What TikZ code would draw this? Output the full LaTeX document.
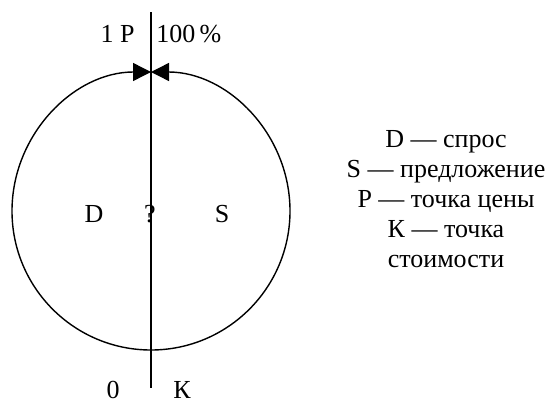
\documentclass[tikz,border=0pt]{standalone}
\usepackage{fontspec}
\setmainfont{Liberation Serif}
\usetikzlibrary{arrows.meta,positioning}

\begin{document}
\begin{tikzpicture}[
    x=0.5pt, y=0.5pt,
    axis/.style={line width=0.7pt},
    halfring/.style={line width=0.7pt, -{Triangle[length=9pt, width=9pt]}},
    lbl/.style={font=\fontsize{13}{15}\selectfont, inner sep=0pt},
    legend/.style={font=\fontsize{13}{15}\selectfont, align=center, inner sep=0pt}
]
\useasboundingbox (0,0) rectangle (551,403);

% Axis
\coordinate (axtop) at (151,391);
\coordinate (axbot) at (151,15);
\draw[axis] (axtop) -- (axbot);

% Circle: two halves meeting at the top
\coordinate (ctr) at (151,192);
\coordinate (cbot) at (151,53);
\draw[halfring] (cbot) arc[start angle=-90, end angle=-270, radius=139];
\draw[halfring] (cbot) arc[start angle=-90, end angle=90, radius=139];

% Top labels
\node[lbl, anchor=base east] (price) at (135,361) {1 P};
\node[lbl, anchor=base west] (full) at (156,361) {100\,\%};

% Inside labels
\node[lbl] (dem) at (94,189) {D};
\node[lbl] (qm) at (150,189) {?};
\node[lbl] (sup) at (222,189) {S};

% Bottom labels
\node[lbl, anchor=base] (zero) at (113,5) {0};
\node[lbl, anchor=base] (cost) at (182,5) {К};

% Legend
\node[legend] (leg) at (446,204) {D — спрос\\S — предложение\\Р — точка цены\\К — точка\\стоимости};

\end{tikzpicture}
\end{document}
